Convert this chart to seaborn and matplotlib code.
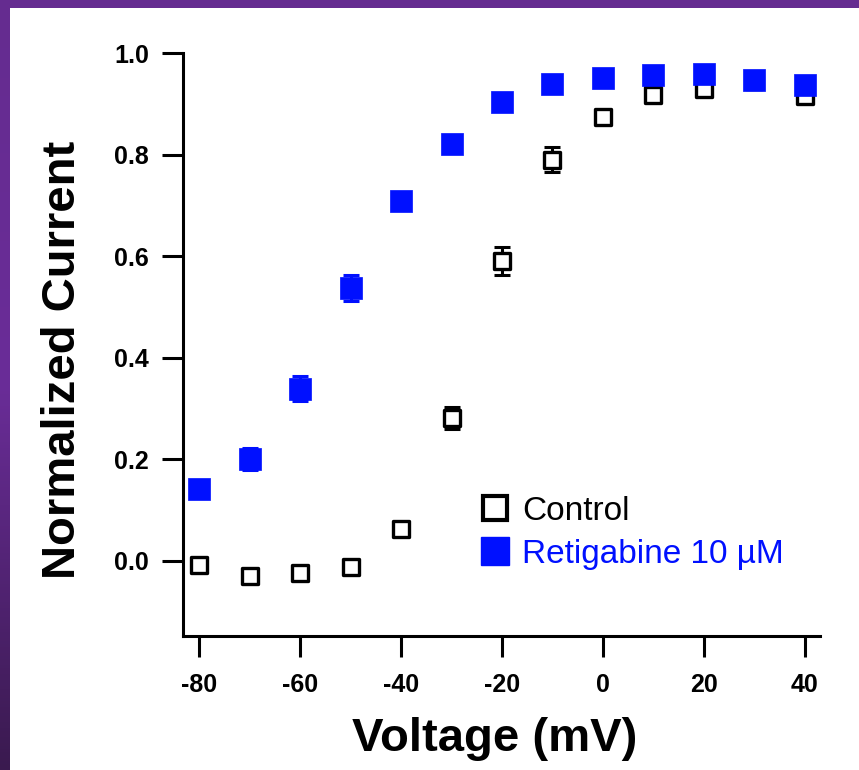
import numpy as np
import pandas as pd
import matplotlib.pyplot as plt
import matplotlib.patches as patches
from matplotlib.colors import LinearSegmentedColormap
from matplotlib.lines import Line2D
import seaborn as sns

# Voltage steps (mV)
voltage = [-80, -70, -60, -50, -40, -30, -20, -10, 0, 10, 20, 30, 40]

# Normalized current, control
control = [-0.008, -0.030, -0.024, -0.012, 0.063, 0.281, 0.590, 0.790, 0.874, 0.917, 0.929, 0.945, 0.915]
control_err = [0.0, 0.0, 0.0, 0.0, 0.0, 0.022, 0.028, 0.024, 0.012, 0.0, 0.0, 0.0, 0.0]

# Normalized current, retigabine 10 uM
retigabine = [0.142, 0.200, 0.339, 0.537, 0.709, 0.821, 0.904, 0.939, 0.951, 0.957, 0.959, 0.947, 0.937]
retigabine_err = [0.0, 0.022, 0.025, 0.025, 0.0, 0.0, 0.0, 0.0, 0.0, 0.0, 0.0, 0.0, 0.0]

x_ticks = [-80, -60, -40, -20, 0, 20, 40]
y_ticks = [0.0, 0.2, 0.4, 0.6, 0.8, 1.0]

blue = '#0010ff'

df = pd.DataFrame({'Voltage': voltage, 'Control': control, 'Retigabine': retigabine})

sns.set_style('ticks')
plt.rcParams['font.family'] = ['Liberation Sans', 'DejaVu Sans']
plt.rcParams['axes.unicode_minus'] = False
plt.rcParams['text.color'] = 'black'
plt.rcParams['axes.labelcolor'] = 'black'
plt.rcParams['xtick.color'] = 'black'
plt.rcParams['ytick.color'] = 'black'
plt.rcParams['axes.edgecolor'] = 'black'

fig = plt.figure(figsize=(8.59, 7.7), dpi=100)

# purple slide frame behind the white panel
bg = fig.add_axes([0, 0, 1, 1], zorder=-20)
purple = LinearSegmentedColormap.from_list('frame', ['#652c90', '#6a2d98', '#3a1a4f'])
bg.imshow(np.linspace(0, 1, 256).reshape(-1, 1), aspect='auto', cmap=purple, extent=[0, 1, 0, 1])
bg.add_patch(patches.Rectangle((10 / 859, 0), 1, 1 - 8 / 770, facecolor='white', edgecolor='none'))
bg.set_xlim(0, 1)
bg.set_ylim(0, 1)
bg.axis('off')

ax = fig.add_axes([183 / 859, 1 - 636 / 770, 637 / 859, 583 / 770])
ax.set_facecolor('none')

# error bars
ax.errorbar(voltage, control, yerr=control_err, fmt='none', ecolor='black',
            elinewidth=2.2, capsize=6, capthick=2.2, zorder=2, clip_on=False)
ax.errorbar(voltage, retigabine, yerr=retigabine_err, fmt='none', ecolor=blue,
            elinewidth=2.2, capsize=6, capthick=2.2, zorder=4, clip_on=False)

sns.scatterplot(data=df, x='Voltage', y='Control', marker='s', s=11.5 ** 2,
                facecolor='white', edgecolor='black', linewidth=2.4, ax=ax, zorder=3, clip_on=False)
sns.scatterplot(data=df, x='Voltage', y='Retigabine', marker='s', s=15.5 ** 2,
                color=blue, edgecolor=blue, linewidth=0.5, ax=ax, zorder=5, clip_on=False)

ax.set_xlim(-83.2, 43)
ax.set_ylim(-0.148, 1.0)
ax.set_xticks(x_ticks)
ax.set_yticks(y_ticks)
ax.set_yticklabels([f'{v:.1f}' for v in y_ticks])
sns.despine(ax=ax)
for s in ['left', 'bottom']:
    ax.spines[s].set_linewidth(2.2)
ax.tick_params(axis='both', length=15, width=2.2, direction='out', labelsize=18)
ax.tick_params(axis='x', pad=11.5)
ax.tick_params(axis='y', pad=9.5)
for lab in ax.get_xticklabels() + ax.get_yticklabels():
    lab.set_fontweight('bold')

ax.set_xlabel('Voltage (mV)', fontsize=34, fontweight='bold')
ax.set_ylabel('Normalized Current', fontsize=34, fontweight='bold')
ax.xaxis.set_label_coords(0.49, -0.139)
ax.yaxis.set_label_coords(-0.154, 0.474)

handles = [
    Line2D([], [], linestyle='none', marker='s', markersize=17, markerfacecolor='white',
           markeredgecolor='black', markeredgewidth=3),
    Line2D([], [], linestyle='none', marker='s', markersize=19.5, markerfacecolor=blue,
           markeredgecolor=blue),
]
leg = ax.legend(handles, ['Control', 'Retigabine 10 µM'], loc='upper left',
                bbox_to_anchor=(0.464, 0.240), frameon=False, handlelength=1.0,
                handletextpad=0.3, labelspacing=0.36, borderpad=0, borderaxespad=0,
                prop={'family': ['Liberation Sans'], 'size': 24})
leg.get_texts()[0].set_color('black')
leg.get_texts()[1].set_color(blue)

fig.savefig('out.png', dpi=100)
